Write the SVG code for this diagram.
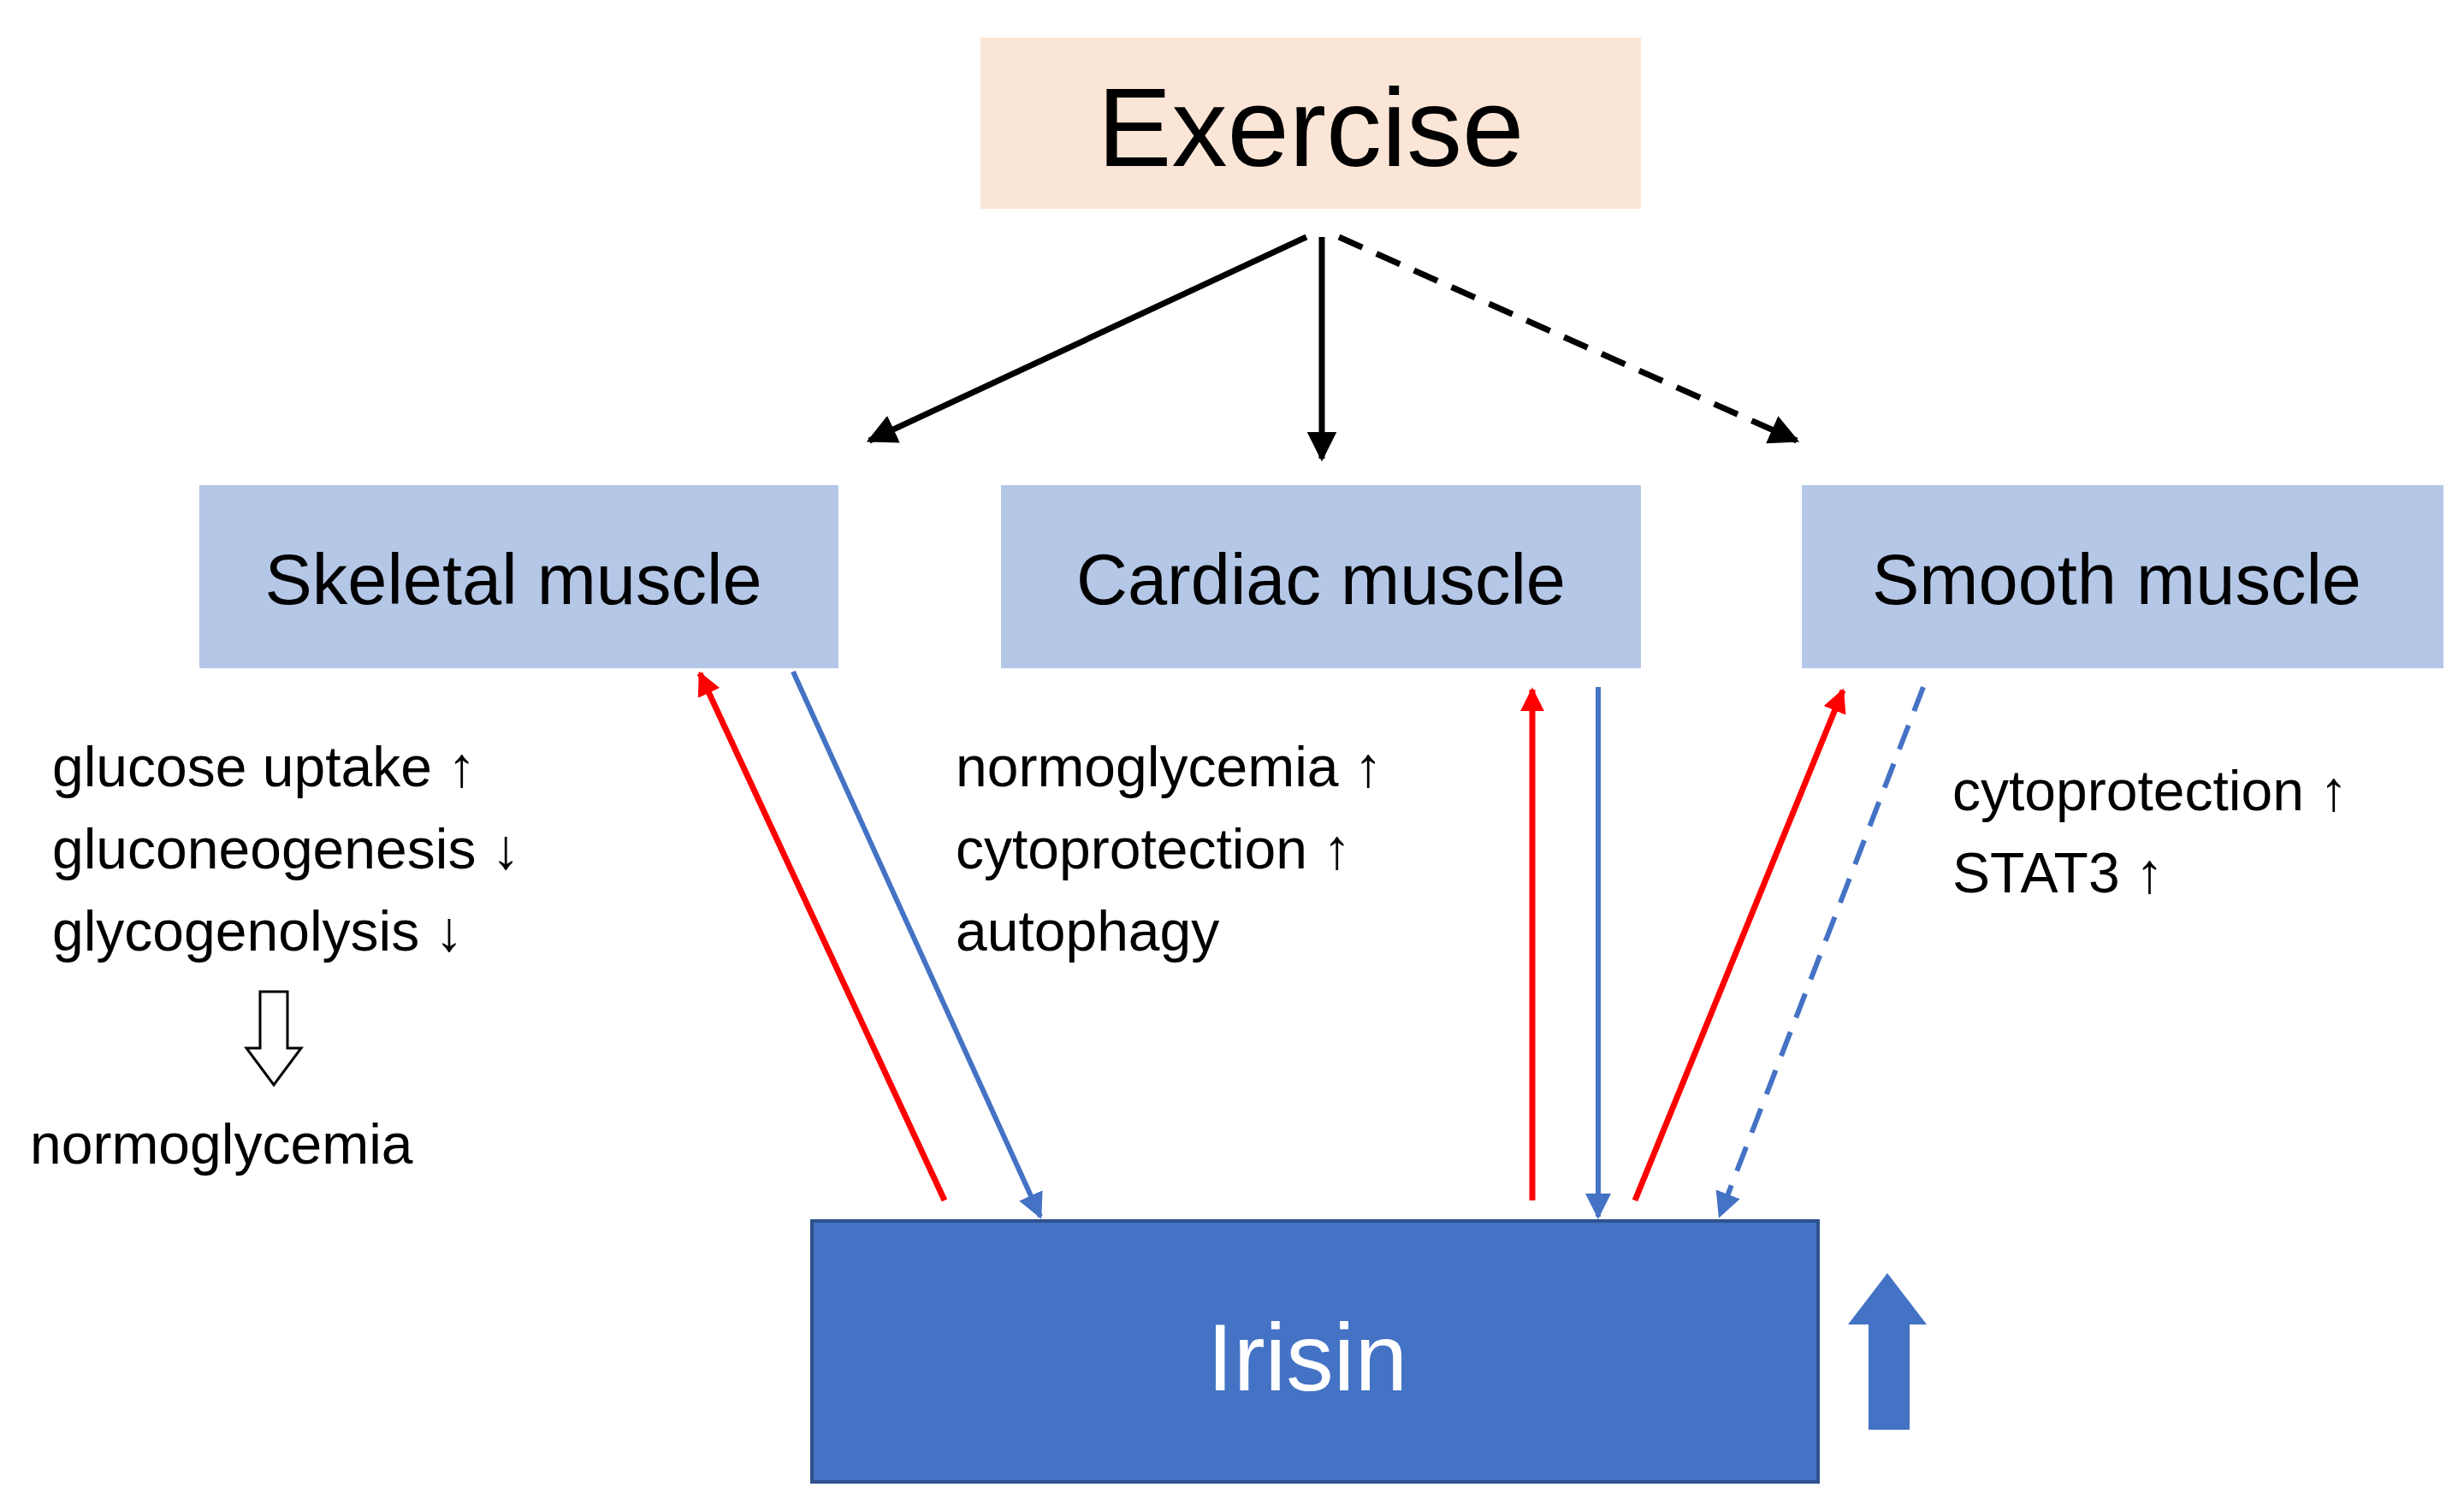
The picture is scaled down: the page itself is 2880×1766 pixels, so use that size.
<svg xmlns="http://www.w3.org/2000/svg" width="2880" height="1766" viewBox="0 0 2880 1766">
<style>
text{font-family:"Liberation Sans",Arial,sans-serif;fill:#000}
.lbl{font-size:66px}
.mus{font-size:83px;text-anchor:middle}
.blk{stroke:#000;stroke-width:7;fill:none}
.red{stroke:#FF0000;stroke-width:7;fill:none}
.blu{stroke:#4472C4;stroke-width:6;fill:none}
</style>
<defs>
<marker id="ab" viewBox="0 0 10 10" refX="9" refY="5" markerWidth="5" markerHeight="5" orient="auto" markerUnits="strokeWidth"><path d="M0,0L10,5L0,10z" fill="#000"/></marker>
<marker id="ar" viewBox="0 0 10 10" refX="9" refY="5" markerWidth="4" markerHeight="4" orient="auto" markerUnits="strokeWidth"><path d="M0,0L10,5L0,10z" fill="#FF0000"/></marker>
<marker id="au" viewBox="0 0 10 10" refX="9" refY="5" markerWidth="5" markerHeight="5" orient="auto" markerUnits="strokeWidth"><path d="M0,0L10,5L0,10z" fill="#4472C4"/></marker>
</defs>
<g id="exercise"><rect x="1146" y="44" width="772" height="200" fill="#FBE5D6"/><text x="1532" y="194" font-size="130" text-anchor="middle">Exercise</text></g>
<g id="skeletal"><rect x="233" y="567" width="747" height="214" fill="#B4C7E7"/><text class="mus" x="600" y="706">Skeletal muscle</text></g>
<g id="cardiac"><rect x="1170" y="567" width="748" height="214" fill="#B4C7E7"/><text class="mus" x="1544" y="706">Cardiac muscle</text></g>
<g id="smooth"><rect x="2106" y="567" width="750" height="214" fill="#B4C7E7"/><text class="mus" x="2474" y="706">Smooth muscle</text></g>
<g id="irisin"><rect x="949" y="1427" width="1176" height="305" fill="#4472C4" stroke="#2F528F" stroke-width="4"/><text x="1528" y="1625" font-size="111" text-anchor="middle" style="fill:#fff">Irisin</text></g>
<g id="uparrow"><path d="M2206,1488L2252,1548L2232,1548L2232,1671L2184,1671L2184,1548L2160,1548z" fill="#4472C4"/></g>
<g id="connectors">
<line class="blk" x1="1527" y1="277" x2="1016" y2="515" marker-end="url(#ab)"/>
<line class="blk" x1="1545" y1="277" x2="1545" y2="536" marker-end="url(#ab)"/>
<line class="blk" x1="1565" y1="277" x2="2100" y2="515" stroke-dasharray="30,18" marker-end="url(#ab)"/>
<line class="red" x1="1104" y1="1403" x2="818" y2="787" marker-end="url(#ar)"/>
<line class="blu" x1="927" y1="785" x2="1216" y2="1422" marker-end="url(#au)"/>
<line class="red" x1="1791" y1="1403" x2="1791" y2="806" marker-end="url(#ar)"/>
<line class="blu" x1="1868" y1="803" x2="1868" y2="1422" marker-end="url(#au)"/>
<line class="red" x1="1911" y1="1403" x2="2154" y2="807" marker-end="url(#ar)"/>
<line class="blu" x1="2248" y1="803" x2="2010" y2="1421" stroke-dasharray="30,18" marker-end="url(#au)"/>
</g>
<g id="skeletal-effects">
<text class="lbl" x="61" y="919">glucose uptake ↑</text>
<text class="lbl" x="61" y="1015">gluconeogenesis ↓</text>
<text class="lbl" x="61" y="1111">glycogenolysis ↓</text>
<path d="M304,1159L336,1159L336,1225L352,1225L320,1268L288,1225L304,1225z" fill="#fff" stroke="#000" stroke-width="3"/>
<text class="lbl" x="35" y="1360">normoglycemia</text>
</g>
<g id="cardiac-effects">
<text class="lbl" x="1117" y="919">normoglycemia ↑</text>
<text class="lbl" x="1117" y="1015">cytoprotection ↑</text>
<text class="lbl" x="1117" y="1111">autophagy</text>
</g>
<g id="smooth-effects">
<text class="lbl" x="2282" y="947">cytoprotection ↑</text>
<text class="lbl" x="2282" y="1043">STAT3 ↑</text>
</g>
</svg>
